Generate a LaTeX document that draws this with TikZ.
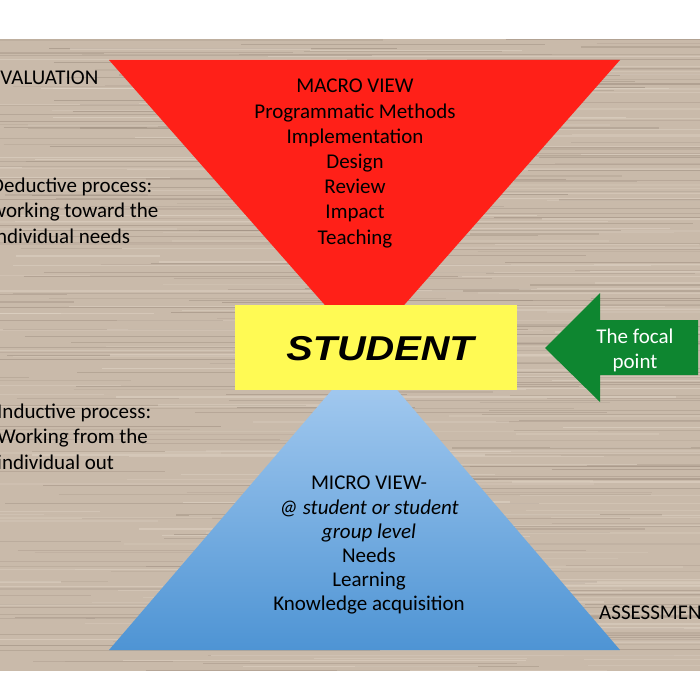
\documentclass[tikz,border=0pt]{standalone}
\usepackage{fontspec}
\setmainfont{Carlito}
\newfontfamily\arialfont{Liberation Sans}
\definecolor{woodbase}{RGB}{201,186,170}
\definecolor{wooddark}{RGB}{150,134,120}
\definecolor{woodlight}{RGB}{224,212,198}
\definecolor{redc}{RGB}{255,32,24}
\definecolor{yellowc}{RGB}{255,250,84}
\definecolor{greenc}{RGB}{14,134,48}
\definecolor{bluetop}{RGB}{172,207,242}
\definecolor{bluebot}{RGB}{78,148,212}
\tikzset{
  txt/.style={inner sep=0pt, font=\fontsize{21}{25.2}\selectfont, text=black},
}
\begin{document}
\begin{tikzpicture}[x=1pt,y=-1pt]
\useasboundingbox (0,0) rectangle (700,700);
\fill[white] (0,0) rectangle (700,700);
\clip (0,0) rectangle (700,700);
% wood background
\fill[woodbase] (0,39) rectangle (700,671);
\begin{scope}
\clip (0,39) rectangle (700,671);
\pgfmathsetseed{11}
\foreach \i in {1,...,260}{
  \pgfmathsetmacro\yy{39+632*rnd}
  \pgfmathsetmacro\xa{-150+750*rnd}
  \pgfmathsetmacro\len{120+520*rnd}
  \pgfmathsetmacro\lw{0.4+1.2*rnd}
  \pgfmathsetmacro\op{0.15+0.35*rnd}
  \draw[line width=\lw pt, draw=wooddark, opacity=\op] (\xa,\yy) -- ++(\len,0);
}
\foreach \i in {1,...,180}{
  \pgfmathsetmacro\yy{39+632*rnd}
  \pgfmathsetmacro\xa{-150+750*rnd}
  \pgfmathsetmacro\len{120+520*rnd}
  \pgfmathsetmacro\lw{0.5+1.4*rnd}
  \pgfmathsetmacro\op{0.2+0.4*rnd}
  \draw[line width=\lw pt, draw=woodlight, opacity=\op] (\xa,\yy) -- ++(\len,0);
}
\end{scope}
% red inverted triangle
\coordinate (rtl) at (109,60);
\coordinate (rtr) at (620,60);
\coordinate (rap) at (364.5,350);
\fill[redc] (rtl) -- (rtr) -- (rap) -- cycle;
% blue triangle
\coordinate (bbl) at (109,650);
\coordinate (bbr) at (620,650);
\coordinate (bap) at (364.5,352);
\shade[top color=bluetop, bottom color=bluebot] (bbl) -- (bbr) -- (bap) -- cycle;
% student box
\node[fill=yellowc, minimum width=282pt, minimum height=85pt, inner sep=0pt] (student) at (376,347.5) {};
\node[inner sep=0pt, font=\arialfont\bfseries\itshape\fontsize{34.5}{34.5}\selectfont] (studenttxt) at (380,349) {\scalebox{1.15}[1]{STUDENT}};
% green arrow
\coordinate (gtip) at (545,348);
\fill[greenc] (gtip) -- (600,293) -- (600,320) -- (698,320) -- (698,375) -- (600,375) -- (600,402) -- cycle;
\node[txt, text=white, align=center, anchor=north] (focal) at (635,329) {The focal\\point};
% texts
\node[txt, align=center, anchor=north] (macro) at (355,79) {MACRO VIEW\\Programmatic Methods\\Implementation\\Design\\Review\\Impact\\Teaching};
\node[txt, align=center, anchor=north, font=\fontsize{21}{24.2}\selectfont] (micro) at (369,476) {MICRO VIEW-\\\textit{@ student or student}\\\textit{group level}\\Needs\\Learning\\Knowledge acquisition};
\node[txt, anchor=north west] (eval) at (-10,71) {EVALUATION};
\node[txt, align=left, anchor=north west] (deduct) at (-9,178) {Deductive process:\\working toward the\\individual needs};
\node[txt, align=left, anchor=north west] (induct) at (-3,404) {Inductive process:\\Working from the\\individual out};
\node[txt, anchor=north west] (assess) at (599,606) {ASSESSMENT};
\end{tikzpicture}
\end{document}
